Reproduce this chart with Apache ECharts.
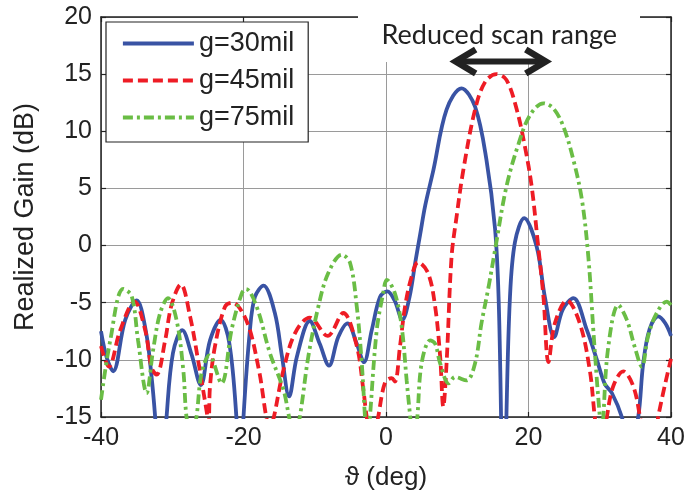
<!DOCTYPE html>
<html>
<head>
<meta charset="utf-8">
<script src="https://cdn.jsdelivr.net/npm/echarts@6/dist/echarts.min.js"></script>
<style>html,body{margin:0;padding:0;background:#fff}#c{width:690px;height:496px}</style>
</head>
<body>
<div id="c"></div>
<script>
// ---- data ----
const xTicks = [-40, -20, 0, 20, 40];
const yTicks = [-15, -10, -5, 0, 5, 10, 15, 20];
const seriesNames = ['g=30mil', 'g=45mil', 'g=75mil'];

const theta30 = [-40,-39.2,-38.3,-36.6,-35.0,-33.7,-32.9,-32.4,-31.6,-30.8,-29.9,-28.6,-27.3,-26.0,-24.7,-23.2,-22.0,-21.0,-20.5,-20.0,-19.1,-18.4,-17.2,-15.6,-14.6,-13.6,-12.5,-10.7,-9.3,-8.0,-6.7,-5.4,-4.1,-3.1,-2.0,-0.84,0.2,1.2,2.3,3.3,4.1,4.8,5.5,6.65,8.5,10.6,12.5,14.1,15.3,15.8,16.15,16.5,16.9,17.4,18.1,19.4,21.15,22.3,23.6,24.8,26.3,28.2,29.6,30.7,31.7,33.1,34.2,35.4,36.1,37.0,38.2,39.2,40];
const gain30  = [-7.5,-9.8,-11.0,-6.5,-4.8,-7.5,-11.5,-15,-22,-15,-9.4,-7.4,-9.5,-12.2,-8.3,-6.5,-8.5,-15,-22,-15,-7.4,-4.5,-3.5,-5.9,-9.7,-13.2,-9.7,-6.6,-8.6,-10.5,-8.0,-6.8,-8.6,-10.2,-7.4,-4.5,-4.0,-4.8,-6.5,-4.5,-1.5,1.0,3.5,6.6,11.9,13.76,12.15,7.5,1.5,-4.5,-15,-30,-15,-4.5,0.3,2.4,-0.1,-4.5,-8.0,-5.6,-4.6,-7.4,-10.0,-12.1,-12.9,-15,-18,-15,-10.3,-7.3,-6.2,-6.8,-7.9];

const theta45 = [-40,-38.9,-37.3,-35.3,-33.8,-32.9,-32.2,-31.0,-30.1,-28.8,-27.5,-26.3,-25.2,-24.9,-24.7,-24.0,-22.6,-21.6,-20.5,-19.1,-17.8,-16.3,-14.4,-12.8,-10.7,-8.2,-6.0,-4.1,-3.2,-2.7,-1.9,-1.1,-0.14,0.8,1.26,1.96,2.67,3.6,4.5,5.9,6.9,7.6,8.04,8.5,9.2,9.9,10.85,12.5,13.9,15.5,16.9,18.35,19.5,20.45,21.3,22.1,22.8,23.7,25.4,27.2,28.6,29.3,30.1,31.0,31.9,33.3,34.7,35.65,37.0,38.2,40];
const gain45  = [-8.8,-10.6,-7.4,-4.9,-7.4,-10.7,-11.3,-8.3,-5.2,-3.4,-6.2,-10.3,-14.4,-15.6,-12.3,-8.8,-5.35,-5.0,-5.5,-7.4,-11.0,-15.8,-10.9,-7.7,-6.3,-7.9,-5.9,-8.8,-12.5,-15,-17.5,-15,-12.0,-11.6,-11.9,-8.85,-5.35,-2.7,-1.46,-2.4,-5.35,-9.7,-14.1,-10.3,-1.0,2.5,6.6,11.9,14.3,15.0,14.5,11.9,8.65,5.15,0.3,-4.5,-10.2,-6.8,-4.8,-6.8,-10.9,-15,-19,-15,-12.3,-11.0,-12.3,-15,-20,-15,-9.9];

const theta75 = [-40,-38.7,-36.9,-35.7,-34.8,-33.6,-32.7,-31.7,-30.6,-29.4,-28.45,-28.0,-27.3,-26.6,-25.9,-24.8,-23.1,-21.65,-20.25,-19.65,-18.15,-16.3,-14.4,-13.6,-12.9,-12.1,-10.9,-9.5,-8.1,-6.2,-5.05,-4.1,-3.4,-2.95,-2.6,-2.25,-1.3,-0.4,0.1,1.26,2.2,2.9,3.4,3.9,4.4,5.0,6.2,6.9,7.6,8.8,9.7,11.3,12.5,13.4,14.4,15.3,16.9,18.6,20.2,22.1,23.5,24.9,26.3,27.5,28.4,29.1,29.6,30.0,30.25,30.5,31.2,32.6,33.8,34.9,35.9,36.8,38.0,39.4,40];
const gain75  = [-13.5,-8.3,-3.8,-4.4,-8.3,-12.9,-9.2,-5.9,-4.6,-6.5,-10.9,-15,-17,-15,-11.2,-9.6,-12.05,-7.3,-4.2,-3.8,-5.35,-9.4,-12.6,-15,-17,-15,-9.7,-5.35,-2.4,-0.8,-1.5,-5.35,-10.3,-15,-18,-15,-7.4,-4.2,-3.0,-4.2,-7.1,-11.8,-15,-18,-15,-10.3,-8.3,-8.6,-10.3,-12.05,-11.5,-11.8,-10.3,-6.8,-3.6,-0.4,5.15,8.9,11.4,12.45,12.0,10.4,7.5,4.0,-1.0,-7.4,-11.8,-15,-18,-15,-8.85,-5.2,-6.5,-8.85,-10.6,-7.9,-5.9,-4.9,-5.2];

const annotationText = 'Reduced scan range';
const arrowFrom = 9.5, arrowTo = 22.7, arrowLevel = 16.1;

// ---- build ----
function zip(a, b) { return a.map((v, i) => [v, b[i]]); }
const colors = ['#3953a4', '#ee1c25', '#6abd45'];
const dashTypes = ['solid', [10, 5], [10, 4, 3, 4]];
const datasets = [zip(theta30, gain30), zip(theta45, gain45), zip(theta75, gain75)];

const FONT = 'Liberation Sans, Arial, sans-serif';
const chart = echarts.init(document.getElementById('c'), null, {renderer: 'canvas'});

const axisCommon = {
  axisLine: {show: true, onZero: false, lineStyle: {color: '#222', width: 1.5}},
  axisTick: {show: true, inside: true, length: 5, lineStyle: {color: '#222', width: 1.2}},
};

const option = {
  animation: false,
  backgroundColor: '#fff',
  grid: {left: 101, right: 19, top: 17, bottom: 79},
  legend: {
    orient: 'vertical', left: 106, top: 22,
    padding: [8, 14, 11, 15],
    itemGap: 10, itemWidth: 71, itemHeight: 14,
    backgroundColor: '#fff', borderColor: '#222', borderWidth: 1.2,
    itemStyle: {opacity: 0},
    lineStyle: {width: 3.8},
    textStyle: {fontFamily: FONT, fontSize: 27, color: '#222', lineHeight: 27},
    data: seriesNames,
  },
  xAxis: [
    Object.assign({
      type: 'value', min: xTicks[0], max: xTicks[xTicks.length - 1], interval: 20,
      name: 'ϑ (deg)', nameLocation: 'middle', nameGap: 48,
      nameTextStyle: {fontFamily: FONT, fontSize: 26, color: '#222'},
      axisLabel: {fontFamily: FONT, fontSize: 25, color: '#222', margin: 9},
      splitLine: {show: true, lineStyle: {color: '#9a9a9a', width: 1}},
    }, axisCommon),
    Object.assign({
      type: 'value', position: 'top', min: xTicks[0], max: xTicks[xTicks.length - 1], interval: 20,
      axisLabel: {show: false}, splitLine: {show: false},
    }, axisCommon),
  ],
  yAxis: [
    Object.assign({
      type: 'value', min: yTicks[0], max: yTicks[yTicks.length - 1], interval: 5,
      name: 'Realized Gain (dB)', nameLocation: 'middle', nameGap: 62, nameRotate: 90,
      nameTextStyle: {fontFamily: FONT, fontSize: 27, color: '#222'},
      axisLabel: {fontFamily: FONT, fontSize: 25, color: '#222', margin: 9},
      splitLine: {show: true, lineStyle: {color: '#9a9a9a', width: 1}},
    }, axisCommon),
    Object.assign({
      type: 'value', position: 'right', min: yTicks[0], max: yTicks[yTicks.length - 1], interval: 5,
      axisLabel: {show: false}, splitLine: {show: false},
    }, axisCommon),
  ],
  series: seriesNames.map((n, i) => ({
    name: n, type: 'line', xAxisIndex: 0, yAxisIndex: 0,
    data: datasets[i], smooth: 0.35, showSymbol: false, symbol: 'none',
    clip: true, z: 3 + i,
    lineStyle: {color: colors[i], width: 3.8, type: dashTypes[i], cap: 'butt'},
    itemStyle: {color: colors[i]},
  })),
};
chart.setOption(option);

// annotation (positioned through the axes)
const P = (x, y) => chart.convertToPixel({xAxisIndex: 0, yAxisIndex: 0}, [x, y]);
const boxL = P(-3.93, 20)[0], boxR = P(35.65, 20)[0];
const boxBottom = P(0, 16.06)[1];
const textPos = P(15.9, 18.4);
const a0 = P(arrowFrom, arrowLevel), a1 = P(arrowTo, arrowLevel);
const head = 22, half = 12;
chart.setOption({
  graphic: [
    {type: 'rect', z: 50, shape: {x: boxL, y: 0, width: boxR - boxL, height: boxBottom}, style: {fill: '#fff'}},
    {type: 'text', z: 51, x: textPos[0], y: textPos[1],
      style: {text: annotationText, fontFamily: 'Lato, sans-serif', fontSize: 27, fill: '#222', align: 'center', verticalAlign: 'middle'}},
    {type: 'polyline', z: 52, shape: {points: [[a0[0] + head, a0[1] - half], [a0[0] + 2, a0[1]], [a0[0] + head, a0[1] + half]]},
      style: {stroke: '#222', lineWidth: 6.5, fill: null, lineJoin: 'miter'}},
    {type: 'line', z: 52, shape: {x1: a0[0] + 3, y1: a0[1], x2: a1[0] - 3, y2: a1[1]}, style: {stroke: '#222', lineWidth: 6}},
    {type: 'polyline', z: 52, shape: {points: [[a1[0] - head, a1[1] - half], [a1[0] - 2, a1[1]], [a1[0] - head, a1[1] + half]]},
      style: {stroke: '#222', lineWidth: 6.5, fill: null, lineJoin: 'miter'}},
  ]
});
</script>
</body>
</html>
